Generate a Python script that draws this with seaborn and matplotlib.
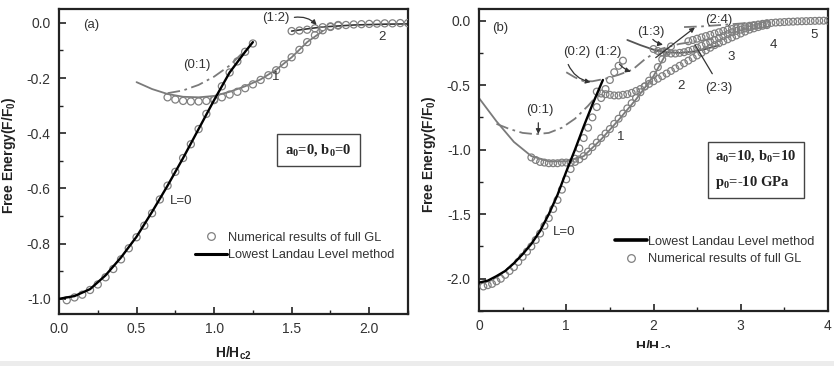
import numpy as np
import pandas as pd
import matplotlib
matplotlib.use("Agg")
import matplotlib.pyplot as plt
import seaborn as sns
from matplotlib.lines import Line2D
from matplotlib.patches import Rectangle
from matplotlib.ticker import MultipleLocator

sns.set_theme(style="ticks")
plt.rcParams["font.family"] = ["Liberation Sans", "DejaVu Sans"]
plt.rcParams["mathtext.default"] = "regular"
plt.rcParams["axes.unicode_minus"] = False

# ---------------- panel (a) data ----------------
a_lll_x = [0.0, 0.1, 0.2, 0.3, 0.4, 0.5, 0.6, 0.7, 0.8, 0.9, 1.0, 1.1, 1.2, 1.25]
a_lll_y = [-1.0, -0.99, -0.965, -0.915, -0.85, -0.775, -0.685, -0.59, -0.49, -0.385, -0.28, -0.18, -0.105, -0.07]

a_gl0_x = [0.05, 0.10, 0.15, 0.20, 0.25, 0.30, 0.35, 0.40, 0.45, 0.50, 0.55, 0.60, 0.65,
           0.70, 0.75, 0.80, 0.85, 0.90, 0.95, 1.00, 1.05, 1.10, 1.15, 1.20, 1.25]
a_gl0_y = [-1.005, -0.995, -0.985, -0.968, -0.948, -0.922, -0.892, -0.857, -0.817, -0.777, -0.735,
           -0.69, -0.64, -0.59, -0.54, -0.49, -0.44, -0.385, -0.33, -0.28, -0.23, -0.18, -0.14, -0.105, -0.075]

a_gl1_x = [0.70, 0.75, 0.80, 0.85, 0.90, 0.95, 1.00, 1.05, 1.10, 1.15, 1.20, 1.25, 1.30, 1.35,
           1.40, 1.45, 1.50, 1.55, 1.60, 1.65, 1.70, 1.75, 1.80]
a_gl1_y = [-0.27, -0.278, -0.283, -0.285, -0.285, -0.283, -0.278, -0.27, -0.26, -0.25, -0.237, -0.223,
           -0.207, -0.19, -0.172, -0.15, -0.125, -0.098, -0.07, -0.045, -0.027, -0.015, -0.008]

a_gl2_x = [1.50, 1.55, 1.60, 1.65, 1.70, 1.75, 1.80, 1.85, 1.90, 1.95, 2.00, 2.05, 2.10, 2.15, 2.20, 2.25]
a_gl2_y = [-0.03, -0.028, -0.025, -0.02, -0.016, -0.013, -0.01, -0.008, -0.006, -0.005, -0.004,
           -0.003, -0.002, -0.002, -0.001, -0.001]

a_l1_x = [0.5, 0.6, 0.7, 0.8, 0.9, 1.0, 1.1, 1.2, 1.3, 1.4, 1.5, 1.6, 1.7]
a_l1_y = [-0.215, -0.24, -0.258, -0.268, -0.27, -0.265, -0.25, -0.23, -0.205, -0.17, -0.125, -0.07, -0.03]

a_d01_x = [0.7, 0.8, 0.9, 1.0, 1.1, 1.2]
a_d01_y = [-0.255, -0.245, -0.225, -0.195, -0.155, -0.1]

a_l2_x = [1.5, 1.6, 1.7, 1.9, 2.1, 2.25]
a_l2_y = [-0.03, -0.022, -0.015, -0.008, -0.005, -0.004]

# ---------------- panel (b) data ----------------
b_lll_x = [0.0, 0.1, 0.2, 0.3, 0.4, 0.5, 0.6, 0.7, 0.8, 0.9, 1.0, 1.1, 1.2, 1.3, 1.42]
b_lll_y = [-2.03, -2.015, -1.98, -1.94, -1.88, -1.81, -1.73, -1.63, -1.50, -1.35, -1.17, -1.00, -0.82, -0.65, -0.46]

b_gl0_x = [0.05, 0.10, 0.15, 0.20, 0.25, 0.30, 0.35, 0.40, 0.45, 0.50, 0.55, 0.60, 0.65, 0.70,
           0.75, 0.80, 0.85, 0.90, 0.95, 1.00, 1.05, 1.10, 1.15, 1.20, 1.25, 1.30, 1.35, 1.40,
           1.45, 1.50, 1.55, 1.60, 1.65]
b_gl0_y = [-2.06, -2.05, -2.04, -2.02, -2.0, -1.97, -1.94, -1.91, -1.87, -1.83, -1.79, -1.75, -1.70,
           -1.65, -1.59, -1.53, -1.46, -1.39, -1.31, -1.23, -1.15, -1.07, -0.99, -0.91, -0.83, -0.75,
           -0.67, -0.60, -0.53, -0.46, -0.40, -0.35, -0.31]

b_gl1_x = [0.60, 0.65, 0.70, 0.75, 0.80, 0.85, 0.90, 0.95, 1.00, 1.05, 1.10, 1.15, 1.20, 1.25,
           1.30, 1.35, 1.40, 1.45, 1.50, 1.55, 1.60, 1.65, 1.70, 1.75, 1.80, 1.85, 1.90, 1.95,
           2.00, 2.05, 2.10, 2.15, 2.20]
b_gl1_y = [-1.06, -1.08, -1.095, -1.10, -1.105, -1.105, -1.105, -1.10, -1.10, -1.10, -1.095, -1.075,
           -1.05, -1.015, -0.98, -0.945, -0.91, -0.875, -0.84, -0.80, -0.76, -0.72, -0.68, -0.64,
           -0.60, -0.555, -0.51, -0.465, -0.42, -0.36, -0.30, -0.24, -0.20]

b_gl2_x = [1.35, 1.40, 1.45, 1.50, 1.55, 1.60, 1.65, 1.70, 1.75, 1.80, 1.85, 1.90, 1.95, 2.00,
           2.05, 2.10, 2.15, 2.20, 2.25, 2.30, 2.35, 2.40, 2.45, 2.50, 2.55, 2.60, 2.65, 2.70,
           2.75, 2.80, 2.85, 2.90, 2.95, 3.00, 3.05, 3.10, 3.15, 3.20, 3.25, 3.30]
b_gl2_y = [-0.55, -0.565, -0.57, -0.575, -0.58, -0.58, -0.575, -0.57, -0.56, -0.545, -0.53, -0.51,
           -0.49, -0.47, -0.45, -0.43, -0.41, -0.39, -0.37, -0.35, -0.33, -0.31, -0.29, -0.27,
           -0.25, -0.23, -0.21, -0.19, -0.175, -0.16, -0.145, -0.13, -0.115, -0.10, -0.085,
           -0.07, -0.06, -0.05, -0.04, -0.035]

b_gl3_x = [2.00, 2.05, 2.10, 2.15, 2.20, 2.25, 2.30, 2.35, 2.40, 2.45, 2.50, 2.55, 2.60, 2.65,
           2.70, 2.75, 2.80, 2.85, 2.90, 2.95, 3.00, 3.05, 3.10, 3.15, 3.20, 3.25, 3.30]
b_gl3_y = [-0.22, -0.235, -0.245, -0.25, -0.255, -0.255, -0.25, -0.245, -0.235, -0.225, -0.21,
           -0.195, -0.18, -0.165, -0.15, -0.135, -0.12, -0.105, -0.09, -0.08, -0.07, -0.06,
           -0.05, -0.04, -0.035, -0.03, -0.025]

b_gl4_x = [2.40, 2.45, 2.50, 2.55, 2.60, 2.65, 2.70, 2.75, 2.80, 2.85, 2.90, 2.95, 3.00, 3.05,
           3.10, 3.15, 3.20, 3.25, 3.30, 3.35, 3.40, 3.45, 3.50, 3.55, 3.60, 3.65, 3.70, 3.75,
           3.80, 3.85, 3.90, 3.95, 4.00]
b_gl4_y = [-0.16, -0.15, -0.14, -0.13, -0.12, -0.11, -0.10, -0.09, -0.08, -0.07, -0.065, -0.06,
           -0.05, -0.045, -0.04, -0.035, -0.03, -0.025, -0.02, -0.018, -0.015, -0.013, -0.011,
           -0.009, -0.008, -0.006, -0.005, -0.004, -0.003, -0.002, -0.001, -0.0005, 0.0]

b_l1_x = [0.0, 0.2, 0.4, 0.6, 0.8, 1.0, 1.2, 1.4, 1.6, 1.8, 2.0, 2.15]
b_l1_y = [-0.60, -0.78, -0.94, -1.05, -1.09, -1.09, -1.05, -0.92, -0.77, -0.61, -0.43, -0.25]

b_d01_x = [0.2, 0.35, 0.5, 0.65, 0.8, 0.95, 1.1, 1.25, 1.38]
b_d01_y = [-0.80, -0.84, -0.87, -0.88, -0.87, -0.83, -0.76, -0.66, -0.56]

b_d02_x = [1.0, 1.1, 1.2, 1.3, 1.45, 1.6, 1.76, 1.9, 2.08, 2.3, 2.5, 2.7]
b_d02_y = [-0.40, -0.44, -0.47, -0.47, -0.45, -0.42, -0.38, -0.30, -0.22, -0.18, -0.16, -0.14]

b_l3_x = [1.70, 1.85, 2.0, 2.15, 2.3, 2.45, 2.6, 2.75]
b_l3_y = [-0.15, -0.19, -0.225, -0.245, -0.25, -0.24, -0.22, -0.19]

b_d24_x = [2.35, 2.55, 2.75, 2.95, 3.15]
b_d24_y = [-0.05, -0.045, -0.035, -0.025, -0.015]

# ---------------- figure ----------------
W, H = 834, 366
fig = plt.figure(figsize=(W / 100, H / 100), dpi=100)
fig.patch.set_facecolor("white")

def axes_px(l, t, r, b):
    return fig.add_axes([l / W, 1 - b / H, (r - l) / W, (b - t) / H])

axA = axes_px(59, 9, 408, 314)
axB = axes_px(479, 9, 828, 311)

GRAY = "#7a7a7a"
CIRC = "#808080"
DASHDOT = (0, (7, 2.5, 1.5, 2.5))

def line(ax, x, y, color="black", lw=1.2, ls="-", z=2):
    sns.lineplot(x=x, y=y, ax=ax, sort=False, estimator=None, legend=False,
                 color=color, linewidth=lw, linestyle=ls, zorder=z)

def circles(ax, x, y, s=26):
    sns.scatterplot(x=x, y=y, ax=ax, s=s, marker="o", facecolors="none",
                    edgecolor=CIRC, linewidth=0.9, legend=False, zorder=3)

# panel (a)
line(axA, a_l1_x, a_l1_y, color=GRAY, lw=1.3)
line(axA, a_d01_x, a_d01_y, color=GRAY, lw=1.3, ls=DASHDOT)
line(axA, a_l2_x, a_l2_y, color="#333333", lw=1.2)
circles(axA, a_gl0_x, a_gl0_y)
circles(axA, a_gl1_x, a_gl1_y)
circles(axA, a_gl2_x, a_gl2_y)
line(axA, a_lll_x, a_lll_y, color="black", lw=1.7, z=4)

# panel (b)
line(axB, b_l1_x, b_l1_y, color=GRAY, lw=1.3)
line(axB, b_d01_x, b_d01_y, color=GRAY, lw=1.3, ls=DASHDOT)
line(axB, b_d02_x, b_d02_y, color=GRAY, lw=1.3, ls=DASHDOT)
line(axB, b_l3_x, b_l3_y, color="#555555", lw=1.3)
line(axB, b_d24_x, b_d24_y, color=GRAY, lw=1.3, ls=DASHDOT)
circles(axB, b_gl0_x, b_gl0_y, s=24)
circles(axB, b_gl1_x, b_gl1_y, s=24)
circles(axB, b_gl2_x, b_gl2_y, s=24)
circles(axB, b_gl3_x, b_gl3_y, s=24)
circles(axB, b_gl4_x, b_gl4_y, s=24)
line(axB, b_lll_x, b_lll_y, color="black", lw=1.7, z=4)

# axes styling
for ax in (axA, axB):
    for sp in ax.spines.values():
        sp.set_visible(True)
        sp.set_linewidth(1.6)
        sp.set_color("#222222")
    ax.tick_params(which="both", direction="in", top=False, right=False,
                   colors="#222222", labelsize=10, labelcolor="#333333")
    ax.tick_params(which="major", length=5, width=1.2, pad=6)
    ax.tick_params(which="minor", length=3, width=1.0)
    ax.set_facecolor("white")
    ax.grid(False)
    ax.set_ylabel("Free Energy(F/F$_0$)", fontweight="bold", fontsize=10, color="#222222")
    ax.yaxis.set_label_coords(-0.118, 0.52)

axA.set_xlim(0, 2.25)
axA.set_ylim(-1.055, 0.05)
axA.xaxis.set_major_locator(MultipleLocator(0.5))
axA.xaxis.set_minor_locator(MultipleLocator(0.25))
axA.yaxis.set_major_locator(MultipleLocator(0.2))
axA.yaxis.set_minor_locator(MultipleLocator(0.1))
axA.xaxis.set_major_formatter(plt.FuncFormatter(lambda v, p: f"{v:.1f}"))
axA.yaxis.set_major_formatter(plt.FuncFormatter(lambda v, p: f"{v:.1f}".replace("-0.0", "0.0")))

axB.set_xlim(0, 4)
axB.set_ylim(-2.25, 0.09)
axB.xaxis.set_major_locator(MultipleLocator(1))
axB.xaxis.set_minor_locator(MultipleLocator(0.5))
axB.yaxis.set_major_locator(MultipleLocator(0.5))
axB.yaxis.set_minor_locator(MultipleLocator(0.25))
axB.xaxis.set_major_formatter(plt.FuncFormatter(lambda v, p: f"{v:.0f}"))
axB.yaxis.set_major_formatter(plt.FuncFormatter(lambda v, p: f"{v:.1f}".replace("-0.0", "0.0")))

axA.set_xlabel("H/H$_{c2}$", fontweight="bold", fontsize=10, color="#222222", va="top")
axA.xaxis.set_label_coords(0.5, -0.10)
axB.set_xlabel("H/H$_{c2}$", fontweight="bold", fontsize=10, color="#222222", va="top")
axB.xaxis.set_label_coords(0.5, -0.093)

TXT = dict(fontsize=9.5, color="#333333", ha="center", va="center")
ARW = dict(arrowstyle="-|>", color="#333333", lw=0.9, mutation_scale=7)

# annotations (a)
axA.text(0.21, -0.007, "(a)", **TXT)
axA.text(0.89, -0.153, "(0:1)", **TXT)
axA.text(1.40, -0.196, "1", **TXT)
axA.text(1.40, 0.018, "(1:2)", **TXT)
axA.text(2.08, -0.051, "2", **TXT)
axA.text(0.79, -0.647, "L=0", **TXT)
axA.annotate("", xy=(1.673, -0.015), xytext=(1.50, 0.018),
             arrowprops=dict(connectionstyle="arc3,rad=-0.3", **ARW))
axA.text(1.673, -0.462, "a$_0$=0, b$_0$=0", family=["Liberation Serif", "DejaVu Serif"],
         fontweight="bold", fontsize=10.5, color="#222222", ha="center", va="center",
         bbox=dict(boxstyle="square,pad=0.55", fc="white", ec="#444444", lw=1.0))

axA.legend(handles=[Line2D([], [], ls="none", marker="o", mfc="none", mec=CIRC, ms=5.5, mew=0.9),
                    Line2D([], [], color="black", lw=2.2)],
           labels=["Numerical results of full GL", "Lowest Landau Level method"],
           loc="upper left", bbox_to_anchor=(0.39, 0.27), frameon=False, fontsize=9.2,
           handlelength=2.5, handletextpad=0.1, borderpad=0, borderaxespad=0,
           labelspacing=0.45, labelcolor="#333333")

# annotations (b)
axB.text(0.24, -0.054, "(b)", **TXT)
axB.text(0.70, -0.69, "(0:1)", **TXT)
axB.text(1.12, -0.24, "(0:2)", **TXT)
axB.text(1.48, -0.24, "(1:2)", **TXT)
axB.text(1.97, -0.085, "(1:3)", **TXT)
axB.text(2.75, 0.008, "(2:4)", **TXT)
axB.text(2.75, -0.52, "(2:3)", **TXT)
axB.text(1.62, -0.90, "1", **TXT)
axB.text(2.31, -0.51, "2", **TXT)
axB.text(2.89, -0.28, "3", **TXT)
axB.text(3.37, -0.19, "4", **TXT)
axB.text(3.84, -0.11, "5", **TXT)
axB.text(0.97, -1.64, "L=0", **TXT)
axB.annotate("", xy=(0.68, -0.90), xytext=(0.68, -0.77), arrowprops=ARW)
axB.annotate("", xy=(1.31, -0.48), xytext=(1.01, -0.32),
             arrowprops=dict(connectionstyle="arc3,rad=0.3", **ARW))
axB.annotate("", xy=(1.77, -0.40), xytext=(1.59, -0.32),
             arrowprops=dict(connectionstyle="arc3,rad=0.2", **ARW))
axB.annotate("", xy=(2.14, -0.19), xytext=(1.97, -0.13),
             arrowprops=dict(connectionstyle="arc3,rad=0.2", **ARW))
axB.annotate("", xy=(2.50, -0.04), xytext=(2.0, -0.30), arrowprops=ARW)
axB.annotate("", xy=(2.46, -0.17), xytext=(2.69, -0.43),
             arrowprops=dict(arrowstyle="-", color="#333333", lw=0.9))
axB.text(2.705, -0.99, "a$_0$=10, b$_0$=10\np$_0$=-10 GPa", family=["Liberation Serif", "DejaVu Serif"],
         fontweight="bold", fontsize=10.5, color="#222222", ha="left", va="top", linespacing=1.8,
         bbox=dict(boxstyle="square,pad=0.5", fc="white", ec="#444444", lw=1.0))

axB.legend(handles=[Line2D([], [], color="black", lw=2.6),
                    Line2D([], [], ls="none", marker="o", mfc="none", mec=CIRC, ms=5.5, mew=0.9)],
           labels=["Lowest Landau Level method", "Numerical results of full GL"],
           loc="upper left", bbox_to_anchor=(0.39, 0.25), frameon=False, fontsize=9.2,
           handlelength=2.5, handletextpad=0.1, borderpad=0, borderaxespad=0,
           labelspacing=0.45, labelcolor="#333333")

# cropped bottom of panel (b) label and light strip at bottom of the image
fig.patches.append(Rectangle((600 / W, (H - 361) / H), 120 / W, 13 / H, transform=fig.transFigure,
                             fc="white", ec="none", zorder=10))
fig.patches.append(Rectangle((0, 0), 1, 5 / H, transform=fig.transFigure,
                             fc="#ececec", ec="none", zorder=11))

fig.savefig("out.png", dpi=100)
